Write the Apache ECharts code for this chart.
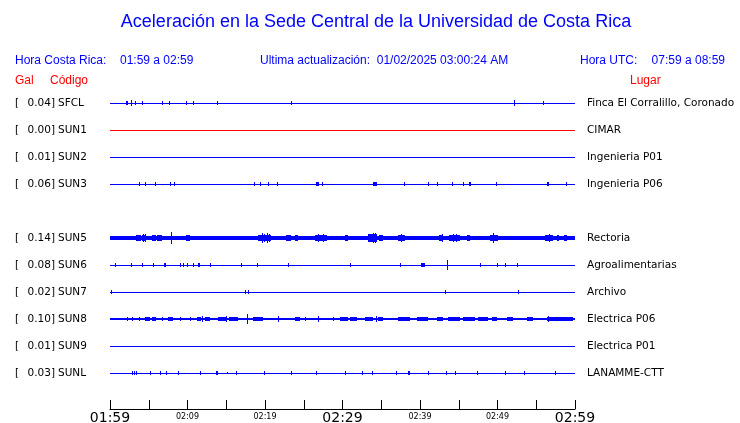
<!DOCTYPE html>
<html><head><meta charset="utf-8">
<script src="https://cdn.jsdelivr.net/npm/echarts@6/dist/echarts.min.js"></script>
<style>html,body{margin:0;padding:0;background:#fff}#c{width:740px;height:423px}</style>
</head><body><div id="c"></div>
<script>
// ---- data ----
var codes  = ['SFCL','SUN1','SUN2','SUN3','SUN5','SUN6','SUN7','SUN8','SUN9','SUNL'];
var gal    = ['0.04','0.00','0.01','0.06','0.14','0.08','0.02','0.10','0.01','0.03'];
var places = ['Finca El Corralillo, Coronado','CIMAR','Ingenieria P01','Ingenieria P06','Rectoria','Agroalimentarias','Archivo','Electrica P06','Electrica P01','LANAMME-CTT'];
var rows   = [0,1,2,3,5,6,7,8,9,10];          // trace slot (SUN4 slot empty)
var xTickLabels = ['01:59','02:09','02:19','02:29','02:39','02:49','02:59']; // every 10 min
var bigTicks = ['01:59','02:29','02:59'];
var traceStart = 0, traceEnd = 60;             // minutes after 01:59
// bursts per station: [startMinute, endMinute, halfAmplitude (trace units)]
var bSFCL = [[2.1,2.3,0.07],[2.7,2.8,0.11],[3.2,3.3,0.07],[4.1,4.1,0.07],[6.7,6.7,0.07],[7.6,7.6,0.07],[9.8,9.8,0.07],[10.7,10.7,0.07],[13.8,13.8,0.06],[23.4,23.4,0.07],[52.1,52.1,0.11],[55.9,55.9,0.07]];
var bSUN1 = [];
var bSUN2 = [];
var bSUN3 = [[3.7,3.7,0.07],[4.5,4.7,0.07],[5.8,5.8,0.07],[7.7,7.9,0.07],[8.3,8.3,0.07],[18.6,18.6,0.07],[19.4,19.4,0.07],[20.4,20.4,0.07],[21.5,21.5,0.07],[26.6,27.0,0.08],[27.4,27.4,0.07],[33.9,34.4,0.08],[37.9,37.9,0.07],[41.0,41.0,0.07],[42.2,42.2,0.07],[44.1,44.1,0.07],[45.5,45.5,0.07],[46.3,46.6,0.08],[49.8,49.8,0.07],[56.4,56.6,0.08],[58.8,58.8,0.07]];
var bSUN5 = [[3.35,3.96,0.10],[3.6,3.6,0.12],[4.09,4.65,0.11],[4.3,4.3,0.15],[4.5,4.5,0.14],[5.38,5.94,0.10],[5.6,5.6,0.12],[6.10,6.67,0.10],[6.3,6.3,0.12],[7.19,7.45,0.09],[7.82,7.82,0.24],[8.39,8.68,0.09],[9.16,9.38,0.08],[9.81,10.32,0.10],[10.0,10.0,0.12],[10.88,10.88,0.08],
  [18.06,18.49,0.09],[19.13,20.74,0.12],[19.6,19.6,0.18],[19.9,19.9,0.16],[20.2,20.2,0.18],[20.5,20.5,0.15],[21.51,21.94,0.09],[22.71,23.32,0.10],[23.0,23.0,0.12],[23.87,24.3,0.10],[24.1,24.1,0.12],[25.46,26.23,0.09],[26.45,27.96,0.11],[26.9,26.9,0.15],[27.5,27.5,0.13],[30.32,30.75,0.11],
  [33.33,34.49,0.13],[33.97,33.97,0.19],[33.7,33.7,0.16],[34.2,34.2,0.17],[34.75,35.19,0.10],[35.39,35.78,0.09],[36.55,36.9,0.09],[37.2,38.06,0.11],[37.6,37.6,0.15],[39.65,39.91,0.09],[40.77,41.07,0.09],[42.49,43.0,0.11],[42.8,42.8,0.13],[43.78,45.16,0.11],[44.2,44.2,0.13],[44.7,44.7,0.13],[46.03,46.45,0.10],[47.52,47.96,0.09],[49.03,50.10,0.11],[49.38,49.38,0.20],[51.83,52.26,0.09],[53.55,54.62,0.08],[56.13,57.2,0.12],[56.6,56.6,0.15],[57.64,57.97,0.10],[58.58,59.0,0.10]];
var bSUN6 = [[0.65,0.65,0.07],[2.7,2.7,0.07],[4.1,4.3,0.07],[5.5,5.5,0.07],[7.0,7.2,0.07],[9.0,9.0,0.06],[9.4,9.4,0.06],[9.9,10.1,0.07],[10.7,10.7,0.07],[11.3,11.6,0.07],[12.9,12.9,0.07],[16.9,16.9,0.06],[19.0,19.0,0.07],[23.0,23.0,0.07],[31.0,31.0,0.06],[37.4,37.4,0.07],[40.1,40.6,0.07],[43.5,43.5,0.19],[47.7,47.7,0.07],[49.9,49.9,0.07],[51.0,51.0,0.07],[52.5,52.5,0.07]];
var bSUN7 = [[0.15,0.25,0.07],[17.4,17.4,0.07],[17.8,17.8,0.07],[43.2,43.2,0.08],[52.6,52.6,0.07]];
var bSUN8 = [[2.2,2.3,0.07],[2.8,2.8,0.08],[3.7,3.7,0.08],[4.5,5.1,0.065],[5.4,5.9,0.065],[6.7,6.7,0.08],[7.5,8.1,0.065],[8.0,8.0,0.09],[9.0,9.0,0.08],[10.3,10.3,0.08],[11.2,11.7,0.065],[11.9,11.9,0.11],[12.2,12.9,0.065],[13.9,15.0,0.075],[15.3,16.5,0.075],[15.0,15.0,0.10],[17.7,17.7,0.2],[18.5,19.7,0.075],[21.7,21.7,0.11],[23.9,24.5,0.09],[25.2,25.2,0.08],[26.8,26.8,0.11],[28.8,28.8,0.08],[29.7,30.7,0.065],[31.0,31.9,0.065],[32.9,33.9,0.065],[34.3,34.3,0.11],[34.6,35.2,0.065],[37.2,38.7,0.065],[39.6,41.0,0.065],[42.2,43.0,0.065],[43.6,45.2,0.065],[45.5,47.1,0.065],[47.5,48.8,0.065],[49.3,49.9,0.065],[51.2,52.0,0.065],[53.8,54.6,0.065],[56.4,59.7,0.065],[56.5,56.5,0.11]];
var bSUN9 = [];
var bSUNL = [[2.8,2.8,0.07],[3.1,3.1,0.07],[3.4,3.4,0.07],[5.1,5.1,0.07],[6.4,6.4,0.07],[7.2,7.2,0.07],[8.8,8.8,0.07],[11.6,11.8,0.07],[13.7,13.9,0.07],[15.1,15.1,0.05],[16.3,16.3,0.07],[19.9,19.9,0.07],[23.4,23.4,0.06],[26.6,26.6,0.07],[30.3,30.3,0.07],[32.5,32.5,0.07],[33.8,33.8,0.07],[36.9,36.9,0.07],[38.5,38.7,0.07],[41.0,41.0,0.07],[43.4,43.4,0.07],[44.5,44.5,0.07],[47.3,47.5,0.07],[51.0,51.0,0.07],[53.4,53.4,0.06],[57.4,57.4,0.07]];
var bursts = [bSFCL,bSUN1,bSUN2,bSUN3,bSUN5,bSUN6,bSUN7,bSUN8,bSUN9,bSUNL];

// ---- styles ----
var BLUE = '#0000ff', RED = '#ff0000';
var traceColor = codes.map(function(c){ return c === 'SUN1' ? RED : BLUE; });
var baseWidth = [1,1,1,1,4,1,1,2,1,1];

var chart = echarts.init(document.getElementById('c'));

// items: [t0, t1, halfAmp, row, stationIndex, kind(0 baseline,1 burst)]
var items = [];
codes.forEach(function(c, i){ items.push([traceStart, traceEnd, 0, rows[i], i, 0]); });
bursts.forEach(function(list, i){
  list.forEach(function(b){ items.push([b[0], b[1], b[2], rows[i], i, 1]); });
});

var series = [{
  type:'custom', silent:true, animation:false, clip:false,
  data: items,
  encode:{x:[0,1], y:3},
  renderItem:function(params, api){
    var t0 = api.value(0), t1 = api.value(1), a = api.value(2), r = api.value(3), idx = api.value(4), kind = api.value(5);
    var pa = api.coord([t0, r]), pb = api.coord([t1, r]);
    var x0 = Math.round(pa[0]), x1 = Math.round(pb[0]);
    var w = Math.max(x1 - x0, 1), y0, h;
    if (kind === 0) {
      h = baseWidth[idx];
      y0 = Math.round(pa[1] - h/2);
    } else {
      var top = api.coord([t0, r - a])[1], bot = api.coord([t0, r + a])[1];
      y0 = Math.round(Math.min(top, bot));
      h = Math.max(Math.round(Math.max(top, bot)) - y0, 1);
    }
    return {type:'rect', shape:{x:x0, y:y0, width:w, height:h}, style:{fill:traceColor[idx]}};
  }
}];

function leftLabel(v){
  var i = rows.indexOf(v);
  if (i < 0) return '';
  return '{a|[}{b|' + gal[i] + ']}{c|' + codes[i] + '}';
}
function rightLabel(v){
  var i = rows.indexOf(v);
  return i < 0 ? '' : places[i];
}
var labelFont = {fontFamily:'DejaVu Sans', fontSize:10.5, color:'#000'};

var hdr = {fontFamily:'Liberation Sans', fontSize:12, fill:BLUE};
function txt(s, x, y, style, align){
  return {type:'text', x:x, y:y, silent:true,
    style:Object.assign({text:s, align:align||'left', verticalAlign:'middle'}, style)};
}

chart.setOption({
  animation:false,
  grid:{left:110, right:165, top:76, bottom:14, containLabel:false, outerBoundsMode:'none'},
  xAxis:{
    type:'value', min:0, max:60, interval:5, position:'bottom',
    axisLine:{onZero:false, lineStyle:{color:'#000', width:1}},
    axisTick:{inside:true, length:9, lineStyle:{color:'#000', width:1}},
    splitLine:{show:false},
    axisLabel:{
      margin:2, showMinLabel:true, showMaxLabel:true, hideOverlap:false,
      formatter:function(v){
        if (v % 10 !== 0) return '';
        var s = xTickLabels[v/10];
        return bigTicks.indexOf(s) >= 0 ? '{big|' + s + '}' : '{small|' + s + '}';
      },
      rich:{
        big:{fontFamily:'DejaVu Sans', fontSize:14, color:'#000'},
        small:{fontFamily:'DejaVu Sans', fontSize:8, color:'#000', padding:[2,0,0,0]}
      }
    }
  },
  yAxis:[{
    type:'value', min:-1, max:34/3, interval:1, inverse:true, position:'left',
    axisLine:{show:false, onZero:false}, axisTick:{show:false}, splitLine:{show:false},
    axisLabel:{
      align:'left', margin:95, formatter:leftLabel, hideOverlap:false,
      rich:{a:Object.assign({width:12.5}, labelFont), b:labelFont, c:Object.assign({padding:[0,0,0,3]}, labelFont)}
    }
  },{
    type:'value', min:-1, max:34/3, interval:1, inverse:true, position:'right',
    axisLine:{show:false, onZero:false}, axisTick:{show:false}, splitLine:{show:false},
    axisLabel:Object.assign({align:'left', margin:12, formatter:rightLabel, hideOverlap:false}, labelFont)
  }],
  series: series,
  graphic:[
    txt('Aceleración en la Sede Central de la Universidad de Costa Rica', 376, 22, {fontFamily:'Liberation Sans', fontSize:18, fill:BLUE}, 'center'),
    txt('Hora Costa Rica:', 15, 61, hdr),
    txt('01:59 a 02:59', 120, 61, hdr),
    txt('Ultima actualización:  01/02/2025 03:00:24 AM', 260, 61, hdr),
    txt('Hora UTC:', 580, 61, hdr),
    txt('07:59 a 08:59', 725, 61, hdr, 'right'),
    txt('Gal', 15, 81, {fontFamily:'Liberation Sans', fontSize:12, fill:RED}),
    txt('Código', 50, 81, {fontFamily:'Liberation Sans', fontSize:12, fill:RED}),
    txt('Lugar', 630, 81, {fontFamily:'Liberation Sans', fontSize:12, fill:RED})
  ]
});
</script></body></html>
